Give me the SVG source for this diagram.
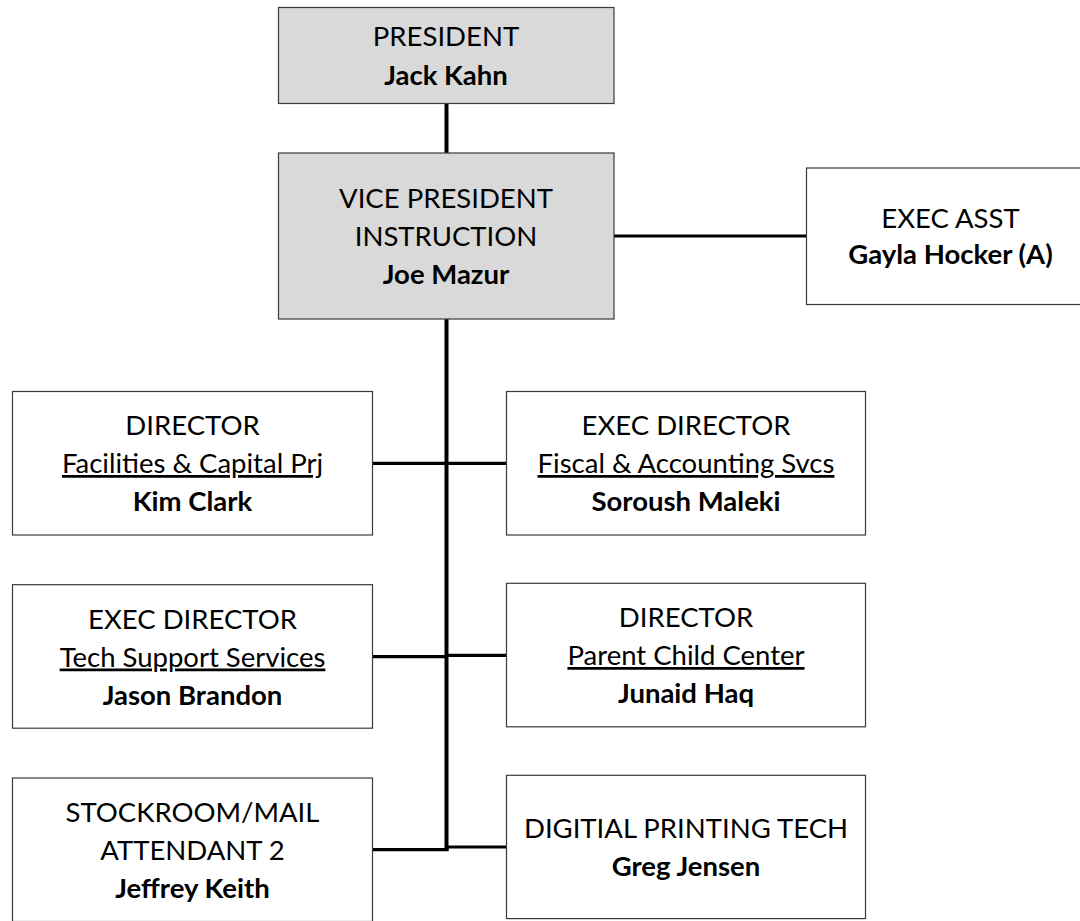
<svg xmlns="http://www.w3.org/2000/svg" width="1080" height="921" viewBox="0 0 1080 921">
<style>
.box{fill:#ffffff;stroke:#3a3a3a;stroke-width:1.2}
.gray{fill:#d9d9d9}
text{font-family:Lato,"Liberation Sans",sans-serif;font-size:27.5px;fill:#000;text-anchor:middle}
.b{font-weight:bold}
.u{text-decoration:underline}
.c{stroke:#000;fill:none;stroke-linecap:butt}
.t4{stroke-width:4}
.t3{stroke-width:3.2}
</style>
<rect width="1080" height="921" fill="#ffffff"/>
<g id="connectors">
<line class="c t4" x1="446.5" y1="103" x2="446.5" y2="153"/>
<line class="c t4" x1="446.5" y1="319" x2="446.5" y2="851"/>
<line class="c t3" x1="614" y1="236" x2="806" y2="236"/>
<line class="c t3" x1="372" y1="463.3" x2="506" y2="463.3"/>
<line class="c t3" x1="372" y1="656.7" x2="446.5" y2="656.7"/>
<line class="c t3" x1="446.5" y1="655.3" x2="506" y2="655.3"/>
<line class="c t3" x1="372" y1="849.7" x2="448.5" y2="849.7"/>
<line class="c t3" x1="446.5" y1="847" x2="506" y2="847"/>
</g>
<g id="president">
<rect class="box gray" x="278.5" y="7.5" width="335.5" height="96"/>
<text x="446" y="46">PRESIDENT</text>
<text class="b" x="446" y="84.5">Jack Kahn</text>
</g>
<g id="vp">
<rect class="box gray" x="278.5" y="153" width="335.5" height="166"/>
<text x="446" y="207.5">VICE PRESIDENT</text>
<text x="446" y="245.8">INSTRUCTION</text>
<text class="b" x="446" y="283.5">Joe Mazur</text>
</g>
<g id="exec-asst">
<rect class="box" x="806.5" y="168" width="290" height="136.5"/>
<text x="950.5" y="227.5">EXEC ASST</text>
<text class="b" x="950.5" y="264">Gayla Hocker (A)</text>
</g>
<g id="director-facilities">
<rect class="box" x="12.5" y="391.5" width="360" height="143.5"/>
<text x="192.5" y="435">DIRECTOR</text>
<text class="u" x="192.5" y="473">Facilities &amp; Capital Prj</text>
<text class="b" x="192.5" y="511">Kim Clark</text>
</g>
<g id="exec-director-fiscal">
<rect class="box" x="506.5" y="391.5" width="359" height="143.5"/>
<text x="686" y="435">EXEC DIRECTOR</text>
<text class="u" x="686" y="473">Fiscal &amp; Accounting Svcs</text>
<text class="b" x="686" y="511">Soroush Maleki</text>
</g>
<g id="exec-director-tech">
<rect class="box" x="12.5" y="584.7" width="360" height="143.5"/>
<text x="192.5" y="628.5">EXEC DIRECTOR</text>
<text class="u" x="192.5" y="666.5">Tech Support Services</text>
<text class="b" x="192.5" y="704.5">Jason Brandon</text>
</g>
<g id="director-parent-child">
<rect class="box" x="506.5" y="583.3" width="359" height="143.5"/>
<text x="686" y="627">DIRECTOR</text>
<text class="u" x="686" y="665">Parent Child Center</text>
<text class="b" x="686" y="703">Junaid Haq</text>
</g>
<g id="stockroom">
<rect class="box" x="12.5" y="778" width="360" height="143.5"/>
<text x="192.5" y="821.5">STOCKROOM/MAIL</text>
<text x="192.5" y="859.5">ATTENDANT 2</text>
<text class="b" x="192.5" y="897.5">Jeffrey Keith</text>
</g>
<g id="digital-printing">
<rect class="box" x="506.5" y="775.3" width="359" height="143.3"/>
<text x="686" y="838">DIGITIAL PRINTING TECH</text>
<text class="b" x="686" y="876">Greg Jensen</text>
</g>
</svg>
